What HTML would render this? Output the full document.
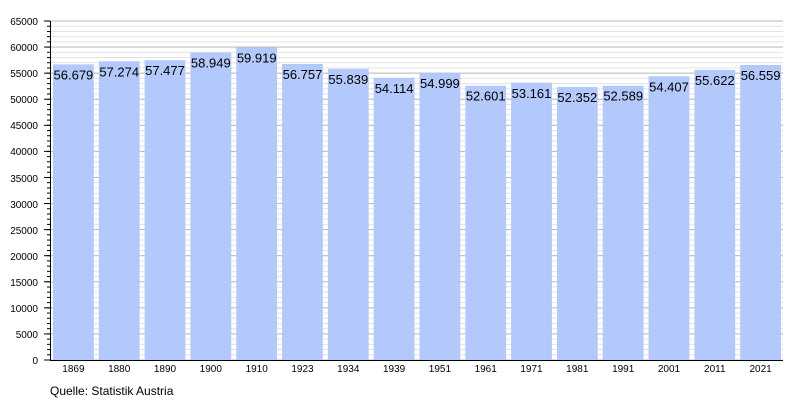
<!DOCTYPE html><html><head><style>body{margin:0;background:#fff}</style></head><body>
<svg width="800" height="400" xmlns="http://www.w3.org/2000/svg" font-family="Liberation Sans, sans-serif">
<defs>
<pattern id="mi" patternUnits="userSpaceOnUse" x="0" y="20.5" width="800" height="5.21538"><rect x="0" y="0" width="800" height="1" fill="#e2e2e2"/></pattern>
<pattern id="ma" patternUnits="userSpaceOnUse" x="0" y="20.5" width="800" height="26.0769"><rect x="0" y="0" width="800" height="1" fill="#bbbbbb"/></pattern>
<pattern id="tmi" patternUnits="userSpaceOnUse" x="0" y="20.5" width="800" height="5.21538"><rect x="0" y="0" width="800" height="1" fill="#000"/></pattern>
<pattern id="tma" patternUnits="userSpaceOnUse" x="0" y="20.5" width="800" height="26.0769"><rect x="0" y="0" width="800" height="1" fill="#000"/></pattern>
</defs>
<rect x="50" y="20.5" width="733" height="340" fill="url(#mi)"/>
<rect x="50" y="20.5" width="733" height="340" fill="url(#ma)"/>
<rect x="47" y="20.5" width="3" height="340" fill="url(#tmi)"/>
<rect x="44" y="20.5" width="6" height="340" fill="url(#tma)"/>
<g font-size="10" text-anchor="end">
<text x="38" y="364">0</text><text x="38" y="338">5000</text><text x="38" y="312">10000</text><text x="38" y="286">15000</text><text x="38" y="260">20000</text><text x="38" y="234">25000</text><text x="38" y="208">30000</text><text x="38" y="182">35000</text><text x="38" y="155">40000</text><text x="38" y="129">45000</text><text x="38" y="103">50000</text><text x="38" y="77">55000</text><text x="38" y="51">60000</text><text x="38" y="25">65000</text>
</g>
<g fill="#b3c8fb">
<rect x="53" y="64.4" width="40.8" height="295.6"/>
<rect x="98.81" y="61.29" width="40.8" height="298.71"/>
<rect x="144.63" y="60.23" width="40.8" height="299.77"/>
<rect x="190.44" y="52.56" width="40.8" height="307.44"/>
<rect x="236.25" y="47.5" width="40.8" height="312.5"/>
<rect x="282.06" y="64" width="40.8" height="296"/>
<rect x="327.88" y="68.78" width="40.8" height="291.22"/>
<rect x="373.69" y="77.78" width="40.8" height="282.22"/>
<rect x="419.5" y="73.16" width="40.8" height="286.84"/>
<rect x="465.31" y="85.67" width="40.8" height="274.33"/>
<rect x="511.13" y="82.75" width="40.8" height="277.25"/>
<rect x="556.94" y="86.96" width="40.8" height="273.04"/>
<rect x="602.75" y="85.73" width="40.8" height="274.27"/>
<rect x="648.56" y="76.25" width="40.8" height="283.75"/>
<rect x="694.38" y="69.91" width="40.8" height="290.09"/>
<rect x="740.19" y="65.02" width="40.8" height="294.98"/>
</g>
<g font-size="13" text-anchor="middle">
<text x="73.4" y="79.4">56.679</text>
<text x="119.2" y="76.3">57.274</text>
<text x="165" y="75.2">57.477</text>
<text x="210.8" y="67.6">58.949</text>
<text x="256.7" y="62.5">59.919</text>
<text x="302.5" y="79">56.757</text>
<text x="348.3" y="83.8">55.839</text>
<text x="394.1" y="92.8">54.114</text>
<text x="439.9" y="88.2">54.999</text>
<text x="485.7" y="100.7">52.601</text>
<text x="531.5" y="97.8">53.161</text>
<text x="577.3" y="102">52.352</text>
<text x="623.2" y="100.7">52.589</text>
<text x="669" y="91.3">54.407</text>
<text x="714.8" y="84.9">55.622</text>
<text x="760.6" y="80">56.559</text>
</g>
<g font-size="10" text-anchor="middle">
<text x="73.4" y="372">1869</text><text x="119.2" y="372">1880</text><text x="165" y="372">1890</text><text x="210.8" y="372">1900</text><text x="256.7" y="372">1910</text><text x="302.5" y="372">1923</text><text x="348.3" y="372">1934</text><text x="394.1" y="372">1939</text><text x="439.9" y="372">1951</text><text x="485.7" y="372">1961</text><text x="531.5" y="372">1971</text><text x="577.3" y="372">1981</text><text x="623.2" y="372">1991</text><text x="669" y="372">2001</text><text x="714.8" y="372">2011</text><text x="760.6" y="372">2021</text>
</g>
<line x1="50.5" x2="50.5" y1="21" y2="360.5" stroke="#000"/>
<line x1="50" x2="783" y1="360.5" y2="360.5" stroke="#000"/>
<text x="50" y="395" font-size="12">Quelle: Statistik Austria</text>
</svg></body></html>
